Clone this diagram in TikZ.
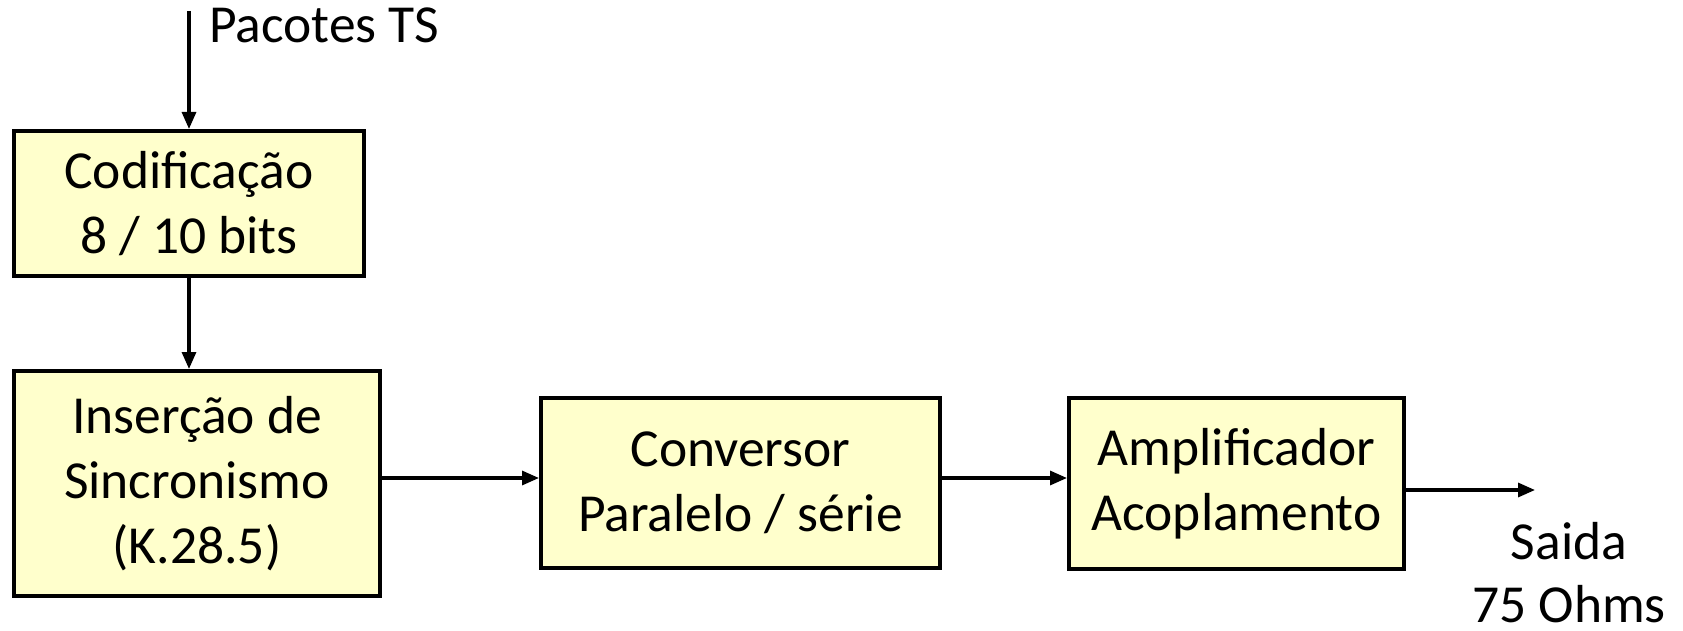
\documentclass[tikz,border=0pt]{standalone}
\usepackage{fontspec}
\setmainfont{Carlito}
\usetikzlibrary{arrows.meta}
\definecolor{boxfill}{HTML}{FFFFCC}
\tikzset{
  blk/.style={draw=black, line width=4pt, fill=boxfill, inner sep=0pt, align=center,
    font=\fontsize{53.5}{65}\selectfont},
  arr/.style={line width=3.2pt, -{Triangle[length=17pt,width=14pt]}},
  lbl/.style={inner sep=0pt, align=center, font=\fontsize{53.5}{63}\selectfont}
}
\begin{document}
\begin{tikzpicture}[x=1pt,y=-1pt]
\useasboundingbox (0,0) rectangle (1683,631);
\node[blk, minimum width=350pt, minimum height=145pt] (cod) at (189,203.5) {Codificação\\8 / 10 bits};
\node[blk, minimum width=366pt, minimum height=225pt] (ins) at (197,483.5) {Inserção de\\Sincronismo\\(K.28.5)};
\node[blk, minimum width=399pt, minimum height=170pt] (conv) at (740.5,483) {Conversor\\Paralelo / série};
\node[blk, minimum width=335pt, minimum height=171pt] (amp) at (1236.5,483.5) {Amplificador\\Acoplamento};
\coordinate (in) at (189,11);
\coordinate (out) at (1535,490);
\node[lbl] (sai) at (1569,573) {Saida\\75 Ohms};
\node[lbl, anchor=base west] (pac) at (209,43) {Pacotes TS};
\draw[arr] (in) -- (cod.north);
\draw[arr] (cod.south) -- (cod.south |- ins.north);
\draw[arr] ([yshift=5.5pt]ins.east) -- ([yshift=5pt]conv.west);
\draw[arr] ([yshift=5pt]conv.east) -- ([yshift=5.5pt]amp.west);
\draw[arr] (amp.east |- out) -- (out);
\end{tikzpicture}
\end{document}
